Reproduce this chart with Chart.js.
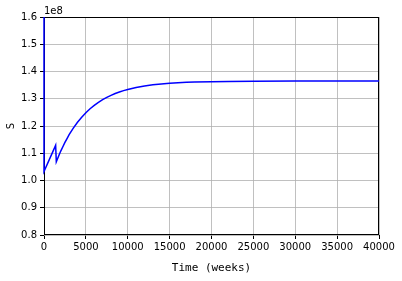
<!DOCTYPE html>
<html>
<head>
<meta charset="utf-8">
<script src="https://cdn.jsdelivr.net/npm/chart.js@4/dist/chart.umd.min.js"></script>
<style>
html,body{margin:0;padding:0;background:#fff;}
canvas{display:block;}
</style>
</head>
<body>
<canvas id="c" width="402" height="281"></canvas>
<script>
// Data (S in units of 1e8)
const timeWeeks = [0, 0, 1390, 1470, 1750, 2000, 2250, 2500, 2750, 3000, 3500, 4000, 4500, 5000, 5500, 6000, 6500, 7000, 7500, 8000, 8500, 9000, 9500, 10000, 11000, 12000, 13000, 14000, 15000, 16000, 17000, 18000, 20000, 22000, 25000, 30000, 35000, 40000];
const sValues   = [1.600, 1.033, 1.129, 1.069, 1.090, 1.108, 1.124, 1.140, 1.154, 1.168, 1.192, 1.2136, 1.2324, 1.2488, 1.2633, 1.2759, 1.2869, 1.2966, 1.3051, 1.3125, 1.3191, 1.3247, 1.3298, 1.3341, 1.3413, 1.3468, 1.3511, 1.3543, 1.3568, 1.3587, 1.3602, 1.3613, 1.3628, 1.3637, 1.3644, 1.3648, 1.3650, 1.3650];
const xTicks = [0, 5000, 10000, 15000, 20000, 25000, 30000, 35000, 40000];
const yTicks = [0.8, 0.9, 1.0, 1.1, 1.2, 1.3, 1.4, 1.5, 1.6];
const offsetText = '1e8';
const xTitle = 'Time (weeks)';
const yTitle = 'S';

const points = timeWeeks.map((t, i) => ({x: t, y: sValues[i]}));

const framePlugin = {
  id: 'frame',
  beforeDatasetsDraw(chart) {
    const {ctx, chartArea: a} = chart;
    ctx.save();
    ctx.strokeStyle = '#000';
    ctx.lineWidth = 1;
    ctx.strokeRect(Math.round(a.left) + 0.5, Math.round(a.top) + 0.5, Math.round(a.right - a.left) - 1, Math.round(a.bottom - a.top) - 1);
    ctx.restore();
  },
  afterDraw(chart) {
    const {ctx, chartArea: a} = chart;
    ctx.save();
    ctx.fillStyle = '#000';
    ctx.font = '10px "DejaVu Sans"';
    ctx.textAlign = 'left';
    ctx.textBaseline = 'bottom';
    ctx.fillText(offsetText, a.left, a.top - 1);
    ctx.restore();
  }
};

new Chart(document.getElementById('c'), {
  type: 'line',
  data: {
    datasets: [{
      data: points,
      borderColor: '#0000ff',
      borderWidth: 1.5,
      pointRadius: 0,
      tension: 0,
      fill: false,
      clip: 2
    }]
  },
  options: {
    responsive: false,
    animation: false,
    devicePixelRatio: 1,
    layout: {padding: {top: 17, right: 23, left: 0, bottom: 0}},
    plugins: {legend: {display: false}, tooltip: {enabled: false}},
    scales: {
      x: {
        type: 'linear',
        min: 0, max: 40000,
        afterBuildTicks(s) { s.ticks = xTicks.map(v => ({value: v})); },
        afterFit(s) { s.height = 46; },
        ticks: {
          color: '#000', font: {family: 'DejaVu Sans', size: 10}, padding: 2,
          maxRotation: 0, autoSkip: false,
          callback: v => String(v)
        },
        grid: {color: '#b0b0b0', lineWidth: 0.8, tickColor: '#000', tickLength: 4, tickWidth: 1},
        border: {display: false},
        title: {display: true, text: xTitle, color: '#000', font: {family: 'DejaVu Sans Mono', size: 11}, padding: {top: 0, bottom: 6}}
      },
      y: {
        type: 'linear',
        min: 0.8, max: 1.6,
        afterBuildTicks(s) { s.ticks = yTicks.map(v => ({value: v})); },
        afterFit(s) { s.width = 44; },
        ticks: {
          color: '#000', font: {family: 'DejaVu Sans', size: 10}, padding: 3,
          autoSkip: false,
          callback: v => Number(v).toFixed(1)
        },
        grid: {color: '#b0b0b0', lineWidth: 0.8, tickColor: '#000', tickLength: 4, tickWidth: 1},
        border: {display: false},
        title: {display: true, text: yTitle, color: '#000', font: {family: 'DejaVu Sans', size: 10}, padding: {top: 5, bottom: 0}}
      }
    }
  },
  plugins: [framePlugin]
});
</script>
</body>
</html>
